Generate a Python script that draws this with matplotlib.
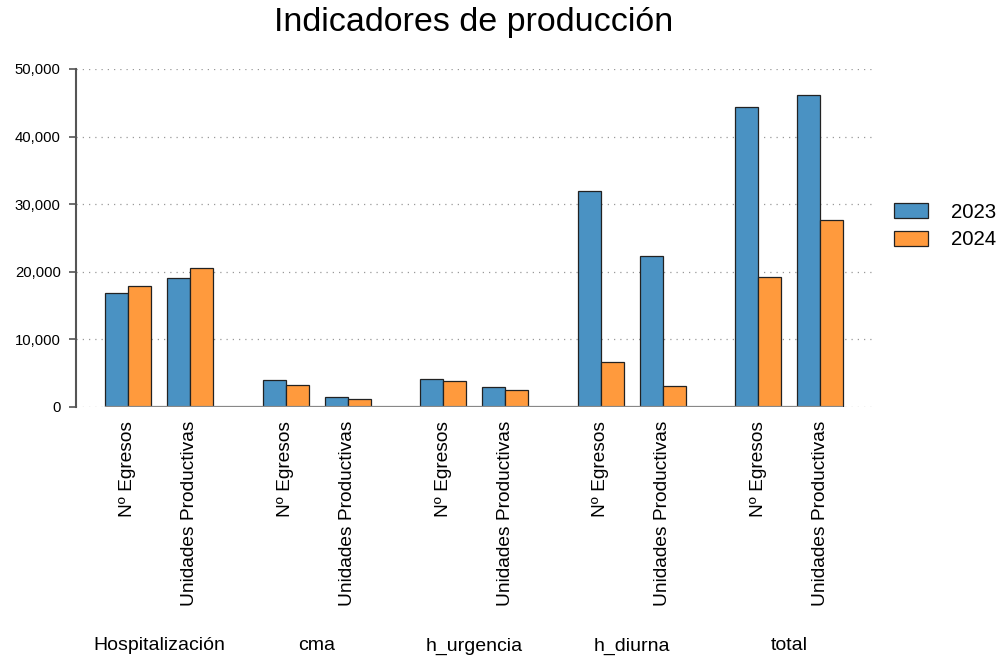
import numpy as np
import matplotlib.pyplot as plt
from matplotlib.patches import Patch

plt.rcParams['font.family'] = ['Liberation Sans', 'DejaVu Sans']

# data
groups = ['Hospitalización', 'cma', 'h_urgencia', 'h_diurna', 'total']
categories = ['Nº Egresos', 'Unidades Productivas']
years = ['2023', '2024']
values_2023 = [16800, 19150, 3950, 1450, 4100, 2950, 31900, 22300, 44400, 46200]
values_2024 = [17950, 20500, 3200, 1150, 3850, 2500, 6600, 3050, 19250, 27600]
colors = ['#4A92C3', '#FF9A3D']

fig = plt.figure(figsize=(10, 6.61), dpi=100)
ax = fig.add_axes([0.076, 1 - 407 / 661, 0.796, (407 - 69) / 661])

group_step = 2.542
bar_w = 0.37
centers = []
for g in range(len(groups)):
    for j in range(len(categories)):
        centers.append(g * group_step + (j - 0.5))
centers = np.array(centers)

ax.bar(centers - bar_w / 2, values_2023, width=bar_w, color=colors[0],
       edgecolor='#222222', linewidth=0.9, zorder=3)
ax.bar(centers + bar_w / 2, values_2024, width=bar_w, color=colors[1],
       edgecolor='#222222', linewidth=0.9, zorder=3)

ax.set_xlim(-0.5 - 52 / 62, -0.5 + (872 - 128) / 62)
ax.set_ylim(0, 50000)

# gridlines and baseline
yt = [0, 10000, 20000, 30000, 40000, 50000]
for y in yt:
    ax.axhline(y, color='#999999', linestyle=(0, (1, 4)), linewidth=0.9, zorder=1)
ax.hlines(0, centers[0] - bar_w, centers[-1] + bar_w, color='#888888',
          linewidth=1.6, zorder=4)

for s in ['top', 'right', 'bottom']:
    ax.spines[s].set_visible(False)
ax.spines['left'].set_color('#555555')
ax.spines['left'].set_linewidth(1.5)

ax.set_yticks(yt)
ax.set_yticklabels([f'{v:,}' for v in yt], fontsize=10.7)
ax.tick_params(axis='y', length=5, width=1.2, color='#555555', pad=6)

ax.set_xticks(centers)
ax.set_xticklabels(categories * len(groups), rotation=90, fontsize=13.8)
ax.tick_params(axis='x', length=0, pad=10)

# group labels
for g, name in enumerate(groups):
    xpix = 159 + g * 157.6
    fig.text(xpix / 1000, 1 - 646 / 661, name, ha='center', va='center',
             fontsize=14)

fig.text(474 / 1000, 1 - 22 / 661, 'Indicadores de producción',
         ha='center', va='center', fontsize=24.5)

handles = [Patch(facecolor=colors[i], edgecolor='#222222', linewidth=0.9,
                 label=years[i]) for i in range(2)]
fig.legend(handles=handles, loc='center left',
           bbox_to_anchor=(0.876, 1 - 226 / 661), frameon=False,
           fontsize=14.7, handlelength=1.67, handleheight=0.74,
           handletextpad=1.08, labelspacing=0.42)

plt.savefig('out.png', dpi=100)
